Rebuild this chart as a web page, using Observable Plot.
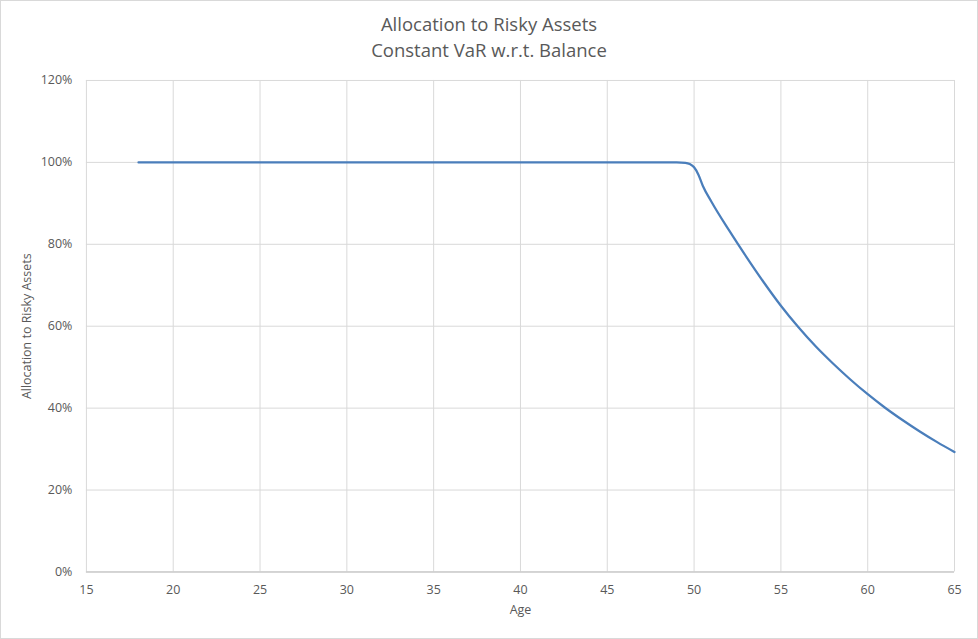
<!DOCTYPE html>
<html>
<head>
<meta charset="utf-8">
<script src="https://cdn.jsdelivr.net/npm/d3@7"></script>
<script src="https://cdn.jsdelivr.net/npm/@observablehq/plot@0.6"></script>
<style>
  html, body { margin: 0; padding: 0; background: #fff; }
  #chart { position: relative; width: 976px; height: 637px; border: 1px solid #d9d9d9; overflow: hidden; font-family: "Open Sans", Lato, sans-serif; color: #595959; }
  .title { position: absolute; left: 0; width: 976px; text-align: center; font-size: 18.5px; color: #595959; }
  #plot { position: absolute; left: -1px; top: 59px; }
</style>
</head>
<body>
<div id="chart">
  <div class="title" style="top: 10px;">Allocation to Risky Assets</div>
  <div class="title" style="top: 36px;">Constant VaR w.r.t. Balance</div>
  <div id="plot"></div>
</div>
<script>
const ages = [18,19,20,21,22,23,24,25,26,27,28,29,30,31,32,33,34,35,36,37,38,39,40,41,42,43,44,45,46,47,48,49,49.5,49.75,50,50.25,50.5,51,52,53,54,55,56,57,58,59,60,61,62,63,64,65];
const allocation = [1,1,1,1,1,1,1,1,1,1,1,1,1,1,1,1,1,1,1,1,1,1,1,1,1,1,1,1,1,1,1,1,0.999,0.996,0.988,0.97,0.943,0.904,0.835,0.77,0.708,0.65,0.598,0.551,0.509,0.47,0.434,0.401,0.371,0.343,0.317,0.293];
const xTicks = [15,20,25,30,35,40,45,50,55,60,65];
const yTicks = [0,0.2,0.4,0.6,0.8,1.0,1.2];

const data = ages.map((a, i) => ({age: a, value: allocation[i]}));

const chart = Plot.plot({
  width: 978,
  height: 580,
  marginTop: 20,
  marginBottom: 68,
  marginLeft: 86,
  marginRight: 23,
  style: { fontFamily: "'Open Sans', Lato, sans-serif", fontSize: "12.5px", color: "#595959", background: "transparent" },
  x: { domain: [15, 65], ticks: xTicks, label: null },
  y: { domain: [0, 1.2], ticks: yTicks, label: null },
  marks: [
    Plot.gridX(xTicks, { stroke: "#d9d9d9", strokeOpacity: 1 }),
    Plot.gridY(yTicks, { stroke: "#d9d9d9", strokeOpacity: 1 }),
    Plot.ruleY([0], { stroke: "#bfbfbf", strokeWidth: 1 }),
    Plot.axisX(xTicks, { tickSize: 0, tickPadding: 13, tickFormat: d => String(d), label: "Age", labelAnchor: "center", labelArrow: "none", labelOffset: 42 }),
    Plot.axisY(yTicks, { tickSize: 0, tickPadding: 14, tickFormat: d => Math.round(d * 100) + "%", label: "Allocation to Risky Assets", labelAnchor: "center", labelArrow: "none", labelOffset: 64 }),
    Plot.line(data, { x: "age", y: "value", stroke: "#4a7ebb", strokeWidth: 2.25, curve: "monotone-x" })
  ]
});
document.getElementById("plot").appendChild(chart);
</script>
</body>
</html>
